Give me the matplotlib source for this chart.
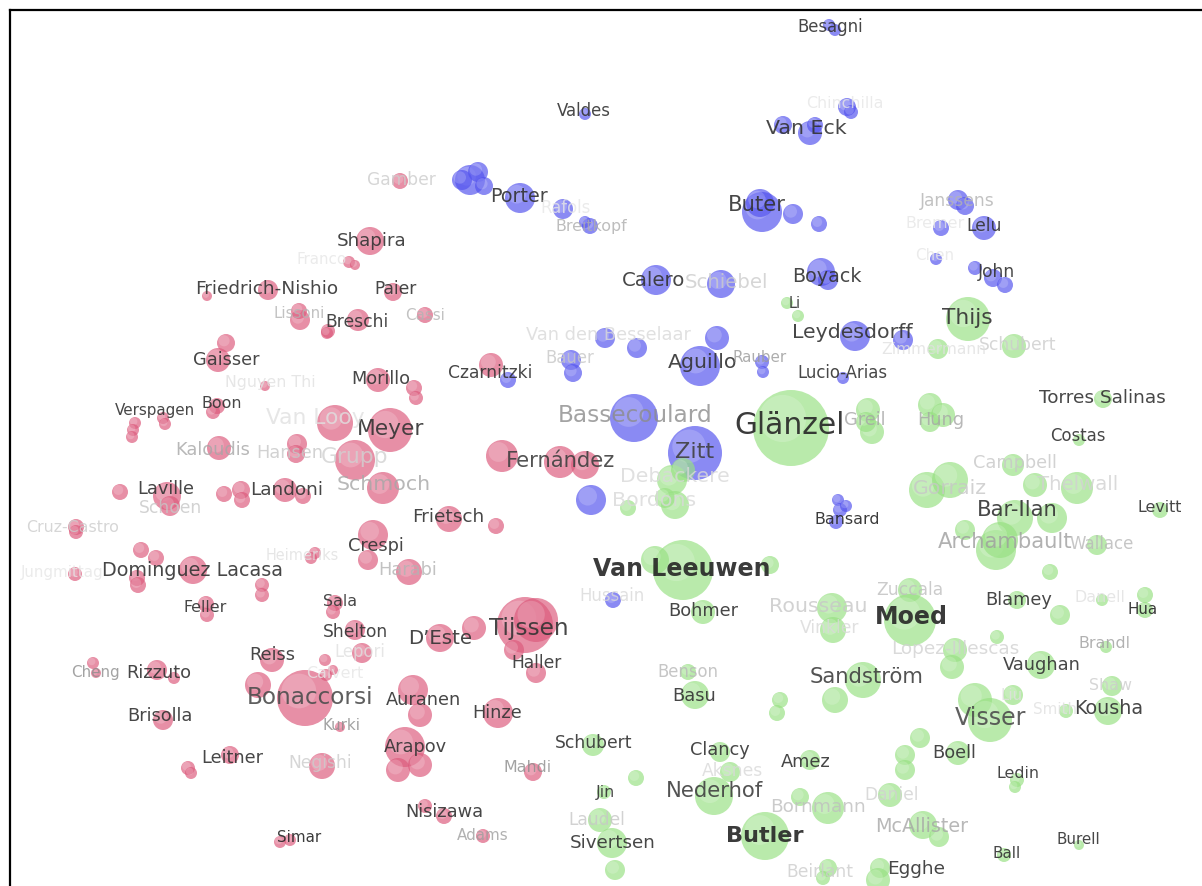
import matplotlib
matplotlib.use("Agg")
import matplotlib.pyplot as plt
from matplotlib.patches import Circle

# cluster colours
COLORS = {"r": "#dc5a7c", "b": "#5353ee", "g": "#98e183"}

# bubbles: x, y (map units, y grows downwards), radius, cluster
red_x = [400, 370, 349, 355, 207, 268, 393, 300, 299, 358, 328, 425, 327, 218, 226, 265, 378, 414, 416,
         491, 217, 213, 135, 133, 132, 163, 165, 335, 390, 219, 297, 296, 355, 383, 502, 560, 585, 120,
         167, 170, 224, 241, 242, 285, 303, 76, 76, 449, 496, 373, 368, 409, 315, 311, 193, 141, 156,
         137, 138, 75, 262, 262, 206, 207, 335, 333, 355, 362, 525, 536, 514, 474, 440, 536, 272, 258,
         325, 333, 326, 305, 413, 420, 498, 340, 405, 398, 420, 322, 533, 157, 174, 93, 96, 163, 230,
         188, 191, 425, 444, 483, 280, 290]
red_y = [181, 241, 262, 265, 296, 290, 292, 320, 311, 320, 331, 315, 333, 360, 343, 386, 380, 388, 398,
         365, 406, 412, 423, 430, 437, 418, 424, 423, 430, 448, 444, 454, 460, 488, 456, 462, 465, 492,
         496, 506, 494, 490, 500, 490, 496, 527, 532, 519, 526, 535, 560, 572, 553, 558, 570, 550, 558,
         578, 585, 574, 585, 595, 604, 615, 603, 612, 630, 653, 625, 620, 650, 628, 638, 673, 660, 685,
         660, 670, 675, 698, 690, 715, 713, 727, 747, 770, 765, 766, 772, 670, 678, 663, 673, 720, 755,
         768, 773, 806, 816, 836, 842, 840]
red_r = [8, 14, 6, 5, 5, 10, 9, 10, 8, 11, 7, 8, 6, 12, 9, 5, 12, 8, 7,
         12, 8, 7, 6, 6, 6, 6, 6, 18, 22, 12, 10, 9, 20, 16, 16, 16, 14, 8,
         14, 10, 8, 9, 8, 12, 8, 8, 7, 13, 8, 15, 10, 13, 6, 6, 14, 8, 8,
         8, 8, 7, 7, 7, 8, 7, 8, 7, 10, 10, 28, 22, 10, 12, 14, 10, 12, 13,
         6, 5, 6, 28, 15, 12, 15, 5, 20, 12, 12, 13, 9, 10, 6, 6, 5, 10, 9,
         7, 6, 7, 8, 7, 6, 6]

blue_x = [829, 835, 585, 847, 851, 783, 810, 815, 520, 470, 478, 462, 484, 563, 590, 585, 762, 760, 793,
          819, 958, 965, 984, 941, 936, 975, 993, 1005, 656, 721, 821, 828, 855, 903, 605, 637, 717, 571,
          573, 700, 762, 763, 843, 508, 634, 695, 591, 838, 840, 836, 846, 613]
blue_y = [25, 30, 114, 107, 112, 125, 133, 125, 198, 180, 172, 180, 186, 209, 226, 222, 212, 203, 214,
          224, 200, 206, 228, 228, 259, 268, 278, 285, 280, 284, 272, 280, 336, 340, 338, 348, 338, 360,
          373, 366, 362, 372, 378, 380, 418, 453, 500, 500, 510, 522, 506, 600]
blue_r = [6, 6, 6, 9, 7, 9, 12, 8, 15, 15, 10, 10, 9, 10, 8, 6, 20, 14, 10,
          8, 10, 9, 12, 8, 6, 7, 9, 8, 15, 14, 14, 10, 15, 10, 10, 10, 12, 10,
          9, 20, 7, 6, 6, 8, 24, 27, 15, 6, 7, 7, 6, 8]

green_x = [787, 798, 968, 938, 1014, 791, 868, 872, 866, 930, 943, 930, 1103, 1079, 1013, 927, 950,
           1035, 1077, 1015, 1052, 1160, 996, 1000, 965, 1097, 1050, 672, 683, 675, 665, 628, 683, 655,
           770, 703, 910, 832, 833, 910, 1017, 1060, 1102, 1145, 1145, 955, 952, 997, 1106, 1041, 688,
           695, 863, 835, 780, 777, 1013, 975, 990, 1112, 1108, 1066, 593, 720, 730, 810, 604, 636, 714,
           958, 920, 905, 905, 1017, 1015, 600, 800, 828, 890, 612, 615, 765, 923, 939, 1004, 1079, 828,
           823, 880, 878]
green_y = [303, 316, 319, 349, 346, 428, 410, 432, 422, 405, 415, 422, 399, 440, 465, 490, 480,
           485, 488, 518, 518, 510, 550, 540, 530, 545, 572, 480, 470, 505, 498, 508, 570, 560,
           565, 612, 590, 608, 630, 620, 600, 615, 600, 595, 610, 650, 667, 637, 647, 665, 672,
           695, 680, 700, 700, 713, 695, 700, 720, 686, 711, 711, 745, 752, 772, 760, 792, 778, 796,
           753, 738, 755, 770, 780, 787, 820, 797, 808, 795, 843, 870, 836, 825, 837, 855, 845, 868,
           878, 868, 880]
green_r = [6, 6, 22, 10, 12, 38, 12, 12, 10, 12, 12, 10, 9, 6, 11, 18, 18,
           12, 16, 18, 15, 8, 20, 18, 10, 10, 8, 15, 12, 14, 10, 8, 30, 14,
           9, 12, 12, 15, 13, 26, 9, 10, 6, 8, 8, 12, 12, 7, 6, 14, 8,
           14, 18, 13, 8, 8, 10, 17, 22, 10, 14, 7, 11, 10, 10, 10, 7, 8, 19,
           12, 10, 10, 10, 7, 6, 12, 9, 16, 12, 15, 10, 24, 14, 10, 7, 5, 9,
           7, 10, 12]

# labels: text, x, y, font size, gray level
label_text = ["Glänzel", "Van Leeuwen", "Moed", "Butler", "Bonaccorsi", "Bassecoulard", "Meyer", "Tijssen",
              "Zitt", "Visser", "Sandström", "Nederhof", "Grupp", "Van Looy", "Schmoch", "Fernández",
              "Debackere", "Bordons", "Rousseau", "Archambault", "Gorraiz", "Bar-Ilan", "Thijs",
              "Leydesdorff", "Calero", "Schiebel", "Buter", "Van Eck", "Aguillo", "Van den Besselaar",
              "Boyack", "Porter", "Shapira", "Czarnitzki", "Morillo", "Crespi", "Harabi", "Landoni",
              "Laville", "Dominguez Lacasa", "D’Este", "Auranen", "Arapov", "Hinze", "Reiss", "Gaisser",
              "Vaughan", "Kousha", "Bohmer", "Benson", "Basu", "Clancy", "Amez", "Boell", "Hung", "Greil",
              "Campbell", "Thelwall", "Wallace", "Levitt", "Torres Salinas", "Costas", "Blamey", "Zuccala",
              "Vinkler", "Lopez-Illescas", "Brandl", "Shaw", "Smith", "Liu", "Hua", "Danell", "Ledin",
              "Daniel", "McAllister", "Bornmann", "Aksnes", "Beirlant", "Egghe", "Ball", "Burell",
              "Laudel", "Sivertsen", "Jin", "Schubert", "Schubert", "Zimmermann", "Mahdi", "Adams",
              "Nisizawa", "Haller", "Shelton", "Sala", "Lepori", "Calvert", "Kurki", "Negishi", "Leitner",
              "Brisolla", "Rizzuto", "Cheng", "Simar", "Feller", "Jungmittag", "Cruz-Castro", "Heimeriks",
              "Frietsch", "Schoen", "Kaloudis", "Hansen", "Boon", "Verspagen", "Nguyen Thi",
              "Friedrich-Nishio", "Paier", "Lissoni", "Breschi", "Cassi", "Franco", "Gamber", "Valdes",
              "Besagni", "Chinchilla", "Janssens", "Lelu", "Bremer", "Chen", "John", "Li", "Rauber",
              "Lucio-Arias", "Bansard", "Hussain", "Rafols", "Breitkopf", "Bauer"]
label_x = [790, 682, 911, 765, 310, 635, 391, 529, 695, 991, 867, 714, 355, 315, 384, 561,
           675, 654, 818, 1005, 950, 1017, 967, 852, 654, 727, 757, 806, 703, 608,
           827, 519, 372, 490, 381, 376, 408, 287, 166, 193, 440, 423, 415, 497, 272, 226,
           1042, 1109, 703, 688, 694, 720, 806, 954, 941, 865, 1015, 1078, 1102, 1160, 1102, 1078,
           1019, 910, 830, 955, 1104, 1111, 1055, 1012, 1143, 1100, 1018, 892, 922, 818, 732, 820,
           916, 1007, 1078, 597, 613, 605, 594, 1018, 934, 528, 483, 444, 537, 356, 340, 360, 335,
           342, 320, 232, 160, 159, 95, 299, 205, 62, 73, 302, 448, 170, 213, 290, 222, 155, 270,
           267, 396, 299, 357, 425, 322, 401, 584, 830, 845, 957, 984, 935, 935, 996, 795, 760,
           842, 847, 612, 566, 591, 570]
label_y = [426, 569, 617, 836, 698, 416, 429, 628, 452, 718, 677, 791, 457, 418, 485, 461,
           477, 501, 607, 542, 489, 510, 318, 332, 280, 283, 205, 128, 362, 335,
           276, 196, 241, 373, 379, 546, 570, 490, 489, 570, 639, 700, 747, 713, 655, 360,
           665, 709, 611, 672, 696, 750, 762, 753, 420, 420, 463, 485, 544, 508, 398, 436,
           600, 590, 628, 649, 643, 686, 710, 695, 609, 598, 774, 795, 826, 807, 771, 872,
           869, 854, 840, 820, 843, 793, 743, 345, 350, 767, 835, 812, 663, 632, 601, 652, 673,
           726, 763, 758, 716, 673, 673, 837, 608, 572, 527, 555, 517, 508, 450, 453, 403, 410, 383,
           289, 289, 313, 322, 316, 260, 180, 111, 27, 104, 201, 226, 224, 256, 272, 303, 358,
           373, 519, 596, 208, 226, 358]
label_size = [22.5, 18, 18, 17, 17.5, 17.5, 16.5, 17.5, 17, 18, 16, 16, 16.5, 16.5, 15.5, 16,
              15.5, 15.5, 15.5, 16, 15.5, 16, 16.5, 15.5, 15, 15, 16, 15.5, 15.5, 13.5,
              14.5, 14.5, 13.8, 13, 13.5, 13.5, 13.5, 14, 13.5, 14.5, 15, 13.5, 13.5, 13.5, 13.5, 13.5,
              13.5, 14.5, 13.5, 12.5, 13.5, 13.5, 13.5, 13.5, 13.5, 13.5, 13.5, 15, 12.6, 12, 14, 12.5,
              13.5, 13, 13, 14, 12, 12, 11.5, 11.5, 11.5, 12, 12, 13, 14.5, 14, 13, 13,
              14, 11.5, 11.5, 13, 13.8, 12, 13, 13, 11.8, 12, 11.5, 13.5, 13, 13, 12, 12.5, 12,
              11.5, 13, 13.5, 13.5, 13.5, 11.5, 11.5, 12, 11.5, 12, 11, 14, 13, 13.5, 13.5, 12, 11.5, 12,
              14, 13, 11.5, 13, 11.5, 11.5, 13, 12.5, 12.5, 12, 13, 13, 12, 11.5, 13, 11, 11.5,
              12.5, 12, 12.5, 12.5, 12, 12.5]
label_gray = [0.15, 0.15, 0.15, 0.15, 0.3, 0.55, 0.2, 0.2, 0.25, 0.3, 0.25, 0.25, 0.82, 0.88, 0.65, 0.25,
              0.85, 0.85, 0.78, 0.62, 0.78, 0.2, 0.2, 0.2, 0.2, 0.8, 0.2, 0.2, 0.2, 0.85,
              0.2, 0.2, 0.2, 0.2, 0.2, 0.2, 0.7, 0.2, 0.2, 0.2, 0.2, 0.2, 0.2, 0.2, 0.2, 0.2,
              0.2, 0.2, 0.2, 0.72, 0.2, 0.2, 0.2, 0.2, 0.65, 0.65, 0.78, 0.82, 0.72, 0.2, 0.2, 0.2,
              0.2, 0.75, 0.85, 0.82, 0.62, 0.8, 0.88, 0.88, 0.15, 0.88, 0.2, 0.82, 0.65, 0.75, 0.85, 0.8,
              0.2, 0.2, 0.2, 0.78, 0.2, 0.2, 0.2, 0.8, 0.88, 0.55, 0.62, 0.2, 0.2, 0.2, 0.2, 0.88, 0.9,
              0.55, 0.8, 0.2, 0.2, 0.2, 0.55, 0.15, 0.2, 0.9, 0.8, 0.88, 0.2, 0.78, 0.65, 0.78, 0.2, 0.2, 0.88,
              0.2, 0.2, 0.7, 0.2, 0.7, 0.9, 0.8, 0.2, 0.2, 0.9, 0.7, 0.2, 0.9, 0.9, 0.2, 0.2, 0.6,
              0.2, 0.15, 0.85, 0.9, 0.68, 0.78]

BOLD = {"Van Leeuwen", "Moed", "Butler"}

fig = plt.figure(figsize=(12.02, 8.86), dpi=100)
ax = fig.add_axes([10 / 1202, 0, 1 - 10 / 1202, 1 - 10 / 886])
ax.set_xlim(10, 1202)
ax.set_ylim(886, 10)
ax.set_xticks([])
ax.set_yticks([])
for side in ["right", "bottom"]:
    ax.spines[side].set_visible(False)
for side in ["left", "top"]:
    ax.spines[side].set_linewidth(1.6)
    ax.spines[side].set_color("black")


def draw_bubbles(xs, ys, rs, key):
    col = COLORS[key]
    for x, y, r in zip(xs, ys, rs):
        ax.add_patch(Circle((x, y), r, facecolor=col, edgecolor="none", alpha=0.68, zorder=2))
        # soft highlight towards the upper left
        ax.add_patch(Circle((x - 0.22 * r, y - 0.25 * r), 0.62 * r, facecolor="white",
                            edgecolor="none", alpha=0.18, zorder=2))


draw_bubbles(red_x, red_y, red_r, "r")
draw_bubbles(blue_x, blue_y, blue_r, "b")
draw_bubbles(green_x, green_y, green_r, "g")

for t, x, y, s, g in zip(label_text, label_x, label_y, label_size, label_gray):
    ax.text(x, y, t, fontsize=s * 0.95, color=(g, g, g), ha="center", va="center",
            fontweight="bold" if t in BOLD else "normal", family="DejaVu Sans",
            alpha=0.9 if g < 0.5 else 0.8, zorder=3)

fig.savefig("out.png", dpi=100)
